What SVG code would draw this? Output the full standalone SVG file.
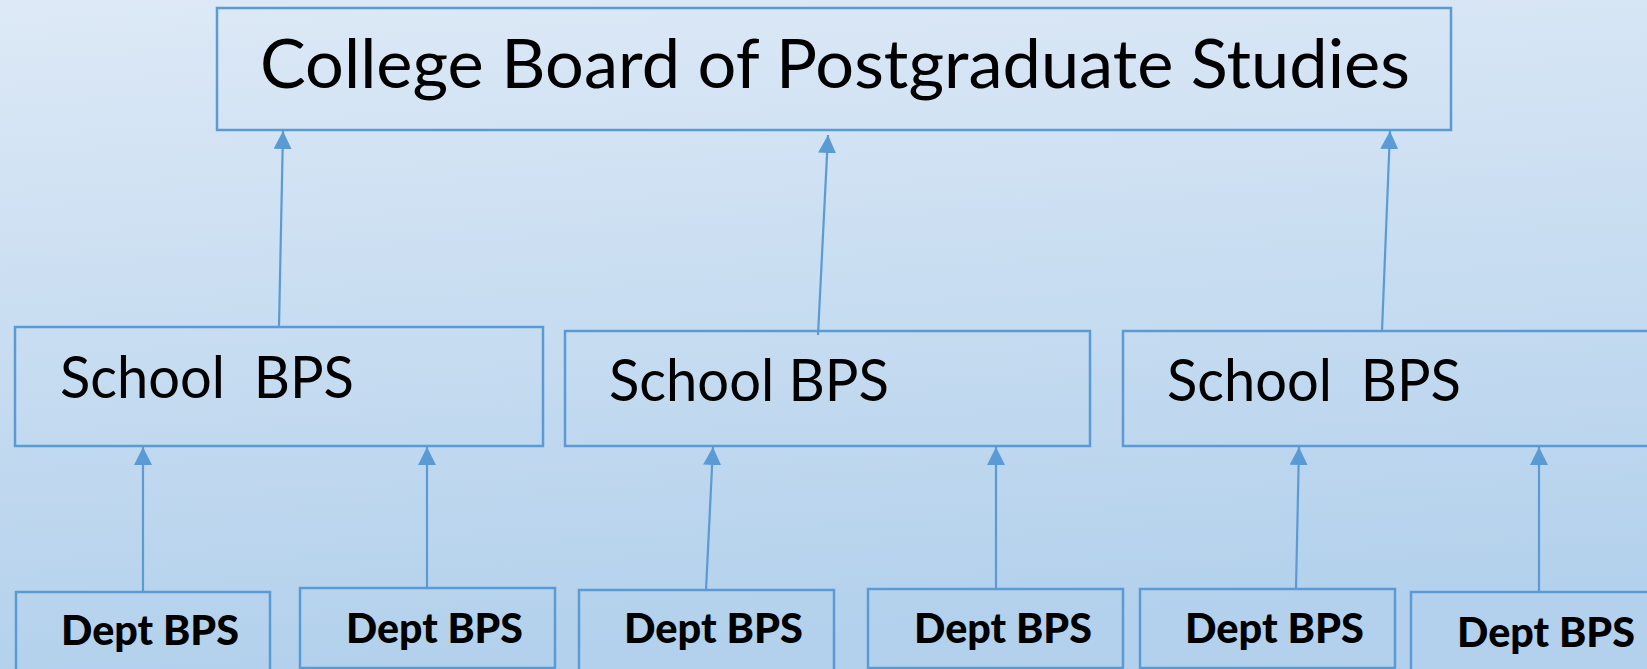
<svg xmlns="http://www.w3.org/2000/svg" width="1647" height="669" viewBox="0 0 1647 669">
<defs>
<linearGradient id="bg" x1="0" y1="0" x2="0.15" y2="1">
<stop offset="0" stop-color="#dde9f6"/>
<stop offset="1" stop-color="#b3d1ec"/>
</linearGradient>
<marker id="ah" markerUnits="userSpaceOnUse" markerWidth="18" markerHeight="18" viewBox="0 0 16 16" refX="16" refY="8" orient="auto">
<path d="M0,0 L16,8 L0,16 Z" fill="#5b9bd5"/>
</marker>
<style>
.box{fill:none;stroke:#5b9bd5;stroke-width:2.5}
.conn line{stroke:#5b9bd5;stroke-width:2.2;marker-end:url(#ah)}
.t1{font-family:Lato,"Open Sans","Liberation Sans",sans-serif;font-size:67px;fill:#000}
.t2{font-family:Lato,"Open Sans","Liberation Sans",sans-serif;font-size:58px;fill:#000}
.t3{font-family:Lato,"Open Sans","Liberation Sans",sans-serif;font-size:41px;font-weight:900;fill:#000}
</style>
</defs>
<rect x="0" y="0" width="1647" height="669" fill="url(#bg)"/>
<g id="college">
<rect class="box" x="217" y="8" width="1234" height="122"/>
<text class="t1" x="260" y="88" textLength="1150" lengthAdjust="spacingAndGlyphs">College Board of Postgraduate Studies</text>
</g>
<g id="school1">
<rect class="box" x="15" y="327" width="528" height="119"/>
<text class="t2" x="60" y="398" textLength="294" lengthAdjust="spacingAndGlyphs" xml:space="preserve">School  BPS</text>
</g>
<g id="school2">
<rect class="box" x="565" y="331" width="525" height="115"/>
<text class="t2" x="609" y="401" textLength="280" lengthAdjust="spacingAndGlyphs">School BPS</text>
</g>
<g id="school3">
<rect class="box" x="1123" y="331" width="540" height="115"/>
<text class="t2" x="1167" y="401" textLength="294" lengthAdjust="spacingAndGlyphs" xml:space="preserve">School  BPS</text>
</g>
<g id="dept1">
<rect class="box" x="16" y="592" width="254" height="90"/>
<text class="t3" x="61" y="645" textLength="178" lengthAdjust="spacingAndGlyphs">Dept BPS</text>
</g>
<g id="dept2">
<rect class="box" x="300" y="588" width="255" height="80"/>
<text class="t3" x="346" y="643" textLength="177" lengthAdjust="spacingAndGlyphs">Dept BPS</text>
</g>
<g id="dept3">
<rect class="box" x="579" y="590" width="255" height="90"/>
<text class="t3" x="624" y="643" textLength="179" lengthAdjust="spacingAndGlyphs">Dept BPS</text>
</g>
<g id="dept4">
<rect class="box" x="868" y="589" width="255" height="79"/>
<text class="t3" x="914" y="643" textLength="178" lengthAdjust="spacingAndGlyphs">Dept BPS</text>
</g>
<g id="dept5">
<rect class="box" x="1140" y="589" width="255" height="79"/>
<text class="t3" x="1185" y="643" textLength="179" lengthAdjust="spacingAndGlyphs">Dept BPS</text>
</g>
<g id="dept6">
<rect class="box" x="1411" y="592" width="260" height="90"/>
<text class="t3" x="1457" y="647" textLength="178" lengthAdjust="spacingAndGlyphs">Dept BPS</text>
</g>
<g id="connectors" class="conn">
<line x1="279" y1="327" x2="283" y2="131"/>
<line x1="818" y1="335" x2="828" y2="135"/>
<line x1="1382" y1="331" x2="1390" y2="131"/>
<line x1="143" y1="591" x2="143" y2="447"/>
<line x1="427" y1="588" x2="427" y2="447"/>
<line x1="706" y1="590" x2="713" y2="447"/>
<line x1="996" y1="589" x2="996" y2="447"/>
<line x1="1296" y1="589" x2="1299" y2="447"/>
<line x1="1539" y1="592" x2="1539" y2="447"/>
</g>
</svg>
